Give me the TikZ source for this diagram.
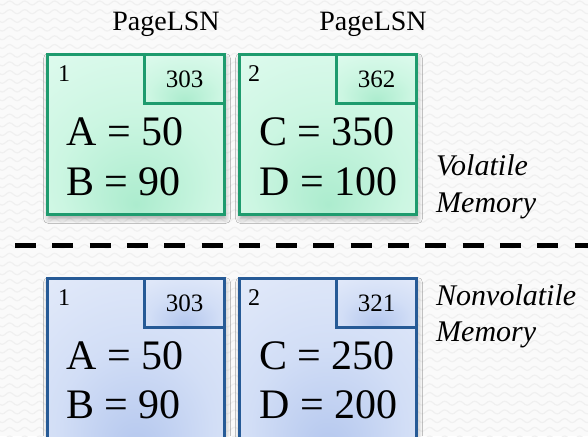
\documentclass[tikz,border=0pt]{standalone}
\usepackage{fontspec}
\setmainfont{Liberation Serif}
\usetikzlibrary{shadows.blur,decorations.pathmorphing}

\definecolor{paper}{RGB}{250,250,250}
\definecolor{wave}{RGB}{240,240,240}
\definecolor{greenedge}{RGB}{30,155,110}
\definecolor{greenlight}{RGB}{224,251,239}
\definecolor{greenmid}{RGB}{204,246,226}
\definecolor{greendeep}{RGB}{172,236,206}
\definecolor{blueedge}{RGB}{38,90,150}
\definecolor{bluelight}{RGB}{228,235,250}
\definecolor{bluemid}{RGB}{210,222,246}
\definecolor{bluedeep}{RGB}{180,199,238}

% soft glow that sits low in the middle of each page
\pgfdeclareradialshading{greenglow}{\pgfpoint{0bp}{-22bp}}{%
  color(0bp)=(greendeep); color(22bp)=(greenmid); color(45bp)=(greenlight); color(70bp)=(greenlight)}
\pgfdeclareradialshading{blueglow}{\pgfpoint{0bp}{-22bp}}{%
  color(0bp)=(bluedeep); color(22bp)=(bluemid); color(45bp)=(bluelight); color(70bp)=(bluelight)}

\newcommand\bigtxt{\fontsize{42}{42}\selectfont}
\newcommand\lsntxt{\fontsize{25}{25}\selectfont}
\newcommand\numtxt{\fontsize{24}{24}\selectfont}
\newcommand\headtxt{\fontsize{28}{28}\selectfont}
\newcommand\sidetxt{\fontsize{30}{30}\selectfont\itshape}

\tikzset{
  pagebox/.style={rectangle, draw, line width=3pt, anchor=north west, inner sep=0pt,
    minimum width=177pt, minimum height=160pt,
    blur shadow={shadow xshift=1pt, shadow yshift=-4pt, shadow blur radius=5pt, shadow opacity=35}},
  greenpage/.style={pagebox, draw=greenedge, shading=greenglow},
  bluepage/.style={pagebox, draw=blueedge, shading=blueglow, minimum height=185pt},
  lsnbox/.style={rectangle, draw, line width=3pt, anchor=north east, inner sep=0pt,
    minimum width=80pt, minimum height=49pt, font=\lsntxt},
  greenlsn/.style={lsnbox, draw=greenedge, shading=greenglow},
  bluelsn/.style={lsnbox, draw=blueedge, shading=blueglow},
  pageno/.style={anchor=base west, inner sep=0pt, font=\numtxt},
  value/.style={anchor=base west, inner sep=0pt, font=\bigtxt},
  head/.style={anchor=base, inner sep=0pt, font=\headtxt},
  side/.style={anchor=base west, inner sep=0pt, font=\sidetxt},
  bgwave/.style={draw=wave, line width=1.2pt, decorate,
    decoration={snake, segment length=15pt, amplitude=2pt}},
  sepline/.style={line width=5pt, dash pattern=on 21pt off 16.3pt}
}

\begin{document}
\begin{tikzpicture}[x=1pt,y=-1pt]
  \path[use as bounding box] (0,0) rectangle (588,436);
  \clip (0,0) rectangle (588,436);

  % textured paper
  \fill[paper] (0,0) rectangle (588,436);
  \foreach \r in {0,...,51}
    \draw[bgwave] (-10,{\r*8.7+3}) -- (600,{\r*8.7+3});

  % headers
  \node[head] (h1) at (166,31) {PageLSN};
  \node[head] (h2) at (373,31) {PageLSN};

  % pages in volatile memory
  \node[greenpage] (vp1) at (46,53) {};
  \node[greenlsn] (vl1) at (vp1.north east) {303};
  \node[pageno] (vn1) at (58,81) {1};
  \node[value] (va) at (66,145) {A = 50};
  \node[value] (vb) at (66,195) {B = 90};

  \node[greenpage] (vp2) at (238,53) {};
  \node[greenlsn] (vl2) at (vp2.north east) {362};
  \node[pageno] (vn2) at (248,81) {2};
  \node[value] (vc) at (259,145) {C = 350};
  \node[value] (vd) at (259,195) {D = 100};

  % boundary between memory and disk
  \coordinate (sl) at (15,245.5);
  \coordinate (sr) at (600,245.5);
  \draw[sepline] (sl) -- (sr);

  % pages in nonvolatile memory
  \node[bluepage] (np1) at (46,277) {};
  \node[bluelsn] (nl1) at (np1.north east) {303};
  \node[pageno] (nn1) at (58,305) {1};
  \node[value] (na) at (66,369) {A = 50};
  \node[value] (nb) at (66,418) {B = 90};

  \node[bluepage] (np2) at (238,277) {};
  \node[bluelsn] (nl2) at (np2.north east) {321};
  \node[pageno] (nn2) at (248,305) {2};
  \node[value] (nc) at (259,369) {C = 250};
  \node[value] (nd) at (259,418) {D = 200};

  % side labels
  \node[side] (s1) at (436,175) {Volatile};
  \node[side] (s2) at (436,212) {Memory};
  \node[side] (s3) at (436,305) {Nonvolatile};
  \node[side] (s4) at (436,341) {Memory};
\end{tikzpicture}
\end{document}
